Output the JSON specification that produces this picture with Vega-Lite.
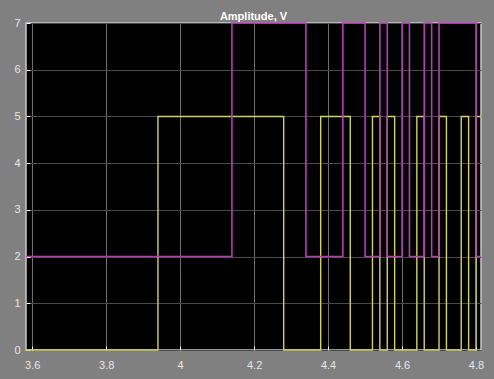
{
  "$schema": "https://vega.github.io/schema/vega-lite/v6.json",
  "autosize": "none",
  "width": 455,
  "height": 327,
  "padding": {"left": 26, "top": 23, "right": 13, "bottom": 29},
  "background": "#808080",
  "title": {"text": "Amplitude, V", "color": "#ffffff", "fontSize": 11, "fontWeight": "bold", "font": "Liberation Sans", "offset": 0, "dy": 5},
  "datasets": {
    "yellow": [
      {"t": 3.5832, "v": 0}, {"t": 3.94, "v": 5}, {"t": 4.28, "v": 0}, {"t": 4.38, "v": 5},
      {"t": 4.46, "v": 0}, {"t": 4.52, "v": 5}, {"t": 4.54, "v": 0}, {"t": 4.56, "v": 5},
      {"t": 4.58, "v": 0}, {"t": 4.64, "v": 5}, {"t": 4.66, "v": 0}, {"t": 4.70, "v": 5},
      {"t": 4.72, "v": 0}, {"t": 4.76, "v": 5}, {"t": 4.78, "v": 0}, {"t": 4.80, "v": 5},
      {"t": 4.8135, "v": 5}
    ],
    "magenta": [
      {"t": 3.5832, "v": 2}, {"t": 4.14, "v": 7}, {"t": 4.34, "v": 2}, {"t": 4.44, "v": 7},
      {"t": 4.50, "v": 2}, {"t": 4.54, "v": 7}, {"t": 4.56, "v": 2}, {"t": 4.60, "v": 7},
      {"t": 4.62, "v": 2}, {"t": 4.66, "v": 7}, {"t": 4.68, "v": 2}, {"t": 4.70, "v": 7},
      {"t": 4.80, "v": 2}, {"t": 4.8135, "v": 2}
    ]
  },
  "encoding": {
    "x": {
      "field": "t", "type": "quantitative",
      "scale": {"domain": [3.5832, 4.8135], "nice": false, "zero": false},
      "axis": {
        "title": null, "domain": false, "values": [3.6, 3.8, 4, 4.2, 4.4, 4.6, 4.8],
        "format": "~g", "grid": true, "gridColor": "#b0b0b0", "gridWidth": 0.8, "gridOpacity": 0.8,
        "ticks": true, "tickSize": -4, "tickColor": "#ffffff", "tickWidth": 1,
        "labelColor": "#e6e6e6", "labelFont": "Liberation Sans", "labelFontSize": 11, "labelPadding": 13
      }
    },
    "y": {
      "field": "v", "type": "quantitative",
      "scale": {"domain": [0, 7], "nice": false},
      "axis": {
        "title": null, "domain": false, "values": [0, 1, 2, 3, 4, 5, 6, 7],
        "grid": true, "gridColor": "#4a4a4a", "gridWidth": 1,
        "ticks": true, "tickSize": -4, "tickColor": "#ffffff", "tickWidth": 1,
        "labelColor": "#e6e6e6", "labelFont": "Liberation Sans", "labelFontSize": 11, "labelPadding": 10
      }
    }
  },
  "layer": [
    {"data": {"name": "yellow"}, "mark": {"type": "line", "interpolate": "step-after", "color": "#d2d264", "strokeWidth": 1.4}},
    {"data": {"name": "magenta"}, "mark": {"type": "line", "interpolate": "step-after", "color": "#b83cb8", "strokeWidth": 1.6}}
  ],
  "config": {"view": {"fill": "#000000", "stroke": "#c8c8c8", "strokeWidth": 1.5}}
}
